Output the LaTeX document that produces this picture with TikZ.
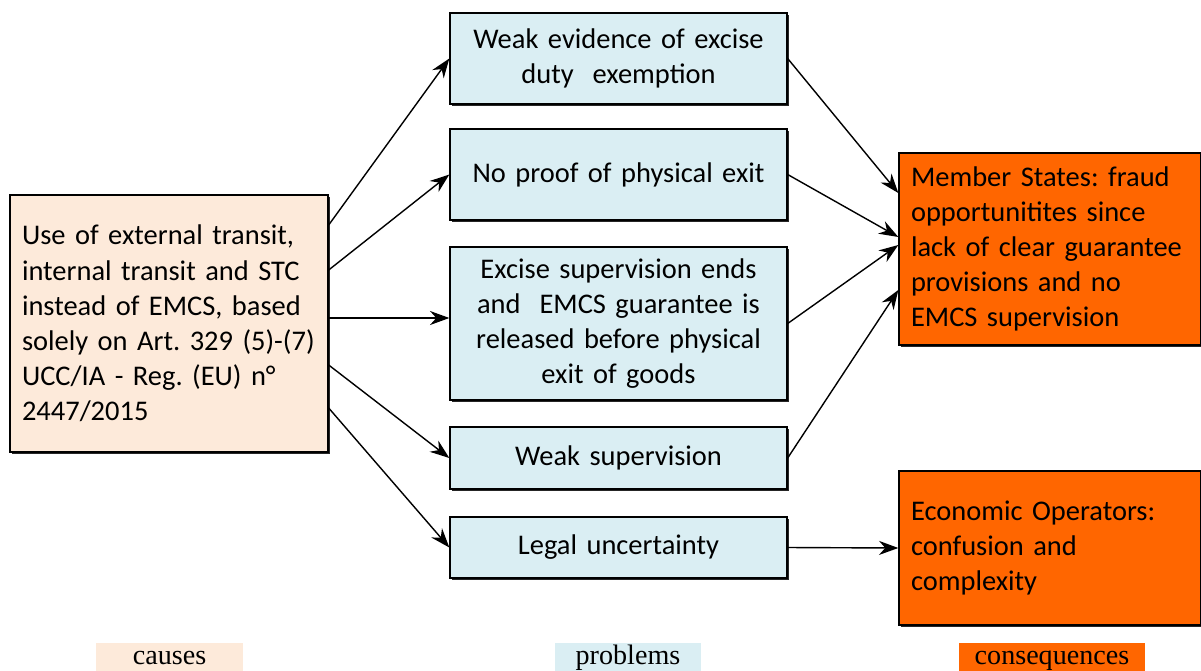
\documentclass[tikz,border=0pt]{standalone}
\usepackage{fontspec}
\setmainfont{Carlito}
\newfontfamily\tagfont{Liberation Serif}
\usetikzlibrary{arrows.meta,shadows}
\definecolor{peach}{HTML}{FDEADA}
\definecolor{paleblue}{HTML}{DAEEF3}
\definecolor{hotorange}{HTML}{FF6600}
\frenchspacing
\begin{document}
\begin{tikzpicture}[x=0.02cm, y=-0.02cm, font=\fontsize{16.2}{20}\selectfont,
    box/.style={draw=black, line width=0.8pt, rectangle, inner ysep=0pt,
      drop shadow={shadow xshift=0.035cm, shadow yshift=-0.035cm, fill=black!85, opacity=1}},
    cause/.style={box, fill=peach, minimum width=6.36cm, minimum height=5.14cm, inner xsep=0.24cm, text width=5.88cm, align=left},
    problem/.style={box, fill=paleblue, minimum width=6.74cm, text width=6.4cm, align=center},
    consequence/.style={box, fill=hotorange, minimum width=6.04cm, inner xsep=0.24cm, text width=5.56cm, align=left},
    tag/.style={anchor=base, inner sep=0pt, text height=0.42cm, text depth=0.3cm, font=\tagfont\fontsize{16}{18}\selectfont},
    link/.style={-{Stealth[length=11pt, width=8pt]}, line width=0.8pt}]
  \clip (0,0) rectangle (1201,670);
  \useasboundingbox (0,0) rectangle (1201,670);

  \node[cause] (cause) at (169,323.5) {Use of external transit,\\ internal transit and STC\\ instead of EMCS, based\\ \mbox{solely on Art. 329 (5)-(7)}\\ UCC/IA - Reg. (EU) n°\\ 2447/2015};

  \node[problem, minimum height=1.82cm] (p1) at (618.5,58.5) {Weak evidence of excise\\ duty\ \ exemption};
  \node[problem, minimum height=1.82cm] (p2) at (618.5,174.5) {No proof of physical exit};
  \node[problem, minimum height=3.06cm] (p3) at (618.5,323.5) {Excise supervision ends\\ and\ \ EMCS guarantee is\\ released before physical\\ exit of goods};
  \node[problem, minimum height=1.24cm] (p4) at (618.5,458) {Weak supervision};
  \node[problem, minimum height=1.22cm] (p5) at (618.5,547.5) {Legal uncertainty};

  \node[consequence, minimum height=3.84cm] (c1) at (1050,249) {Member States: fraud\\ opportunitites since\\ lack of clear guarantee\\ provisions and no\\ EMCS supervision};
  \node[consequence, minimum height=3.08cm] (c2) at (1050,548) {Economic Operators:\\ confusion and\\ complexity};

  % causes -> problems
  \draw[link] ([yshift=1.97cm]cause.east) -- (p1.west);
  \draw[link] ([yshift=1.07cm]cause.east) -- (p2.west);
  \draw[link] ([yshift=0.11cm]cause.east) -- ([yshift=0.11cm]p3.west);
  \draw[link] ([yshift=-0.83cm]cause.east) -- (p4.west);
  \draw[link] ([yshift=-1.69cm]cause.east) -- (p5.west);

  % problems -> consequences
  \draw[link] (p1.east) -- ([yshift=1.12cm]c1.west);
  \draw[link] (p2.east) -- ([yshift=0.24cm]c1.west);
  \draw[link] (p3.east) -- ([yshift=0.08cm]c1.west);
  \draw[link] (p4.east) -- ([yshift=-0.82cm]c1.west);
  \draw[link] (p5.east) -- (c2.west);

  \node[tag, fill=peach, minimum width=2.94cm] (tcause) at (169.5,664) {causes};
  \node[tag, fill=paleblue, minimum width=2.92cm] (tproblem) at (628,664) {problems};
  \node[tag, fill=hotorange, minimum width=3.72cm] (tconseq) at (1052,664) {consequences};
\end{tikzpicture}
\end{document}
